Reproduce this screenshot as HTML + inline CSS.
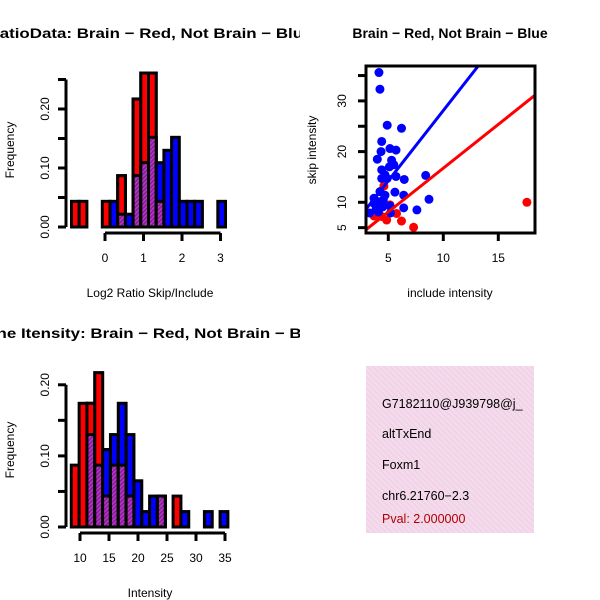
<!DOCTYPE html>
<html><head><meta charset="utf-8"><style>
html,body{margin:0;padding:0;background:#fff}
svg{display:block;font-family:"Liberation Sans",sans-serif}
</style></head><body>
<svg id="c" width="600" height="600" viewBox="0 0 600 600">
<defs>
<pattern id="purp" patternUnits="userSpaceOnUse" width="3" height="3" patternTransform="rotate(45)">
<rect width="3" height="3" fill="#8a1a9a"/><rect width="1.5" height="3" fill="#b03ac0"/></pattern>
<pattern id="pink" patternUnits="userSpaceOnUse" width="4" height="4" patternTransform="rotate(-45)">
<rect width="4" height="4" fill="#fad6f4"/><rect width="1" height="4" fill="#dcdccc"/></pattern>
<clipPath id="clipTL"><rect x="0" y="0" width="300" height="300"/></clipPath>
<clipPath id="clipBL"><rect x="0" y="300" width="300" height="300"/></clipPath>
<clipPath id="clipSc"><rect x="366" y="66" width="169" height="167"/></clipPath>
<clipPath id="clipBox"><rect x="366" y="366" width="168" height="168"/></clipPath>
</defs>
<g id="tl"></g>
<g id="tr"></g>
<g id="bl"></g>
<g id="br">
<rect x="366" y="366" width="168" height="167" fill="url(#pink)"/>
<g clip-path="url(#clipBox)" font-size="12.5">
<text x="382" y="408">G7182110@J939798@j_</text>
<text x="382" y="438">altTxEnd</text>
<text x="382" y="469">Foxm1</text>
<text x="382" y="500">chr6.21760−2.3</text>
<text x="382" y="523" fill="#b00000">Pval: 2.000000</text>
</g></g>
</svg>
<script>
// ---- Top-left histogram data (Log2 ratio) ----
const ratioBreakStart = -0.87;
const ratioBinWidth = 0.2;
const ratioRed  = [0.0435,0.0435,0,0,0.0435,0,0.087,0,0.217,0.261,0.261,0.0435,0,0,0,0,0,0,0,0];
const ratioBlue = [0,0,0,0,0,0.0435,0.0217,0.0217,0.087,0.109,0.152,0.109,0.130,0.152,0.0435,0.0435,0.0435,0,0,0.0435];
const ratioXTicks = [0,1,2,3];
const ratioYTicks = [0,0.05,0.10,0.15,0.20,0.25];
const ratioYLabels = ["0.00","","0.10","","0.20",""];
// ---- Bottom-left histogram data (Intensity) ----
const intBreakStart = 8.5;
const intBinWidth = 1.35;
const intRed  = [0.087,0.174,0.174,0.217,0.0435,0.087,0.087,0.0435,0,0,0,0.0435,0,0.0435,0,0,0,0,0,0];
const intBlue = [0,0,0.130,0.087,0.109,0.130,0.174,0.130,0.065,0.0217,0.0435,0.0435,0,0,0.0217,0,0,0.0217,0,0.0217];
const intXTicks = [10,15,20,25,30,35];
const intYTicks = [0,0.05,0.10,0.15,0.20];
const intYLabels = ["0.00","","0.10","","0.20"];
// ---- Scatter data ----
const blueInclude = [4.15,4.24,4.9,6.2,4.4,4.34,4.0,5.15,5.7,5.3,5.1,5.5,4.4,4.7,4.4,4.9,5.7,6.45,8.4,4.24,4.7,5.6,6.4,8.7,3.7,3.7,4.1,4.5,5.15,6.4,7.6,3.3,4.1,5.2,4.55,3.9];
const blueSkip    = [35.6,32.3,25.2,24.6,22.0,20.0,18.5,20.6,20.3,18.3,17.0,17.4,16.4,15.4,14.7,14.7,15.1,14.5,15.3,12.1,11.4,12.0,11.4,10.6,10.8,9.8,10.1,9.1,9.3,8.9,8.5,7.9,8.1,7.9,10.5,8.8];
const redInclude  = [17.6,7.3,6.2,4.85,5.75,3.7,4.4,5.15,4.6];
const redSkip     = [10.0,5.07,6.3,6.5,7.8,7.3,7.2,9.5,13.2];
const blueFit = [0.4,2.77];   // intercept, slope
const redFit  = [-0.53,1.726];
const scXTicks = [5,10,15];
const scYTicks = [5,10,15,20,25,30,35];
const scYLabels = ["5","10","","20","","30",""];

const NS="http://www.w3.org/2000/svg";
function mk(parent,tag,attrs){const e=document.createElementNS(NS,tag);for(const k in attrs)e.setAttribute(k,attrs[k]);parent.appendChild(e);return e;}

function hist(g,o){
  const sx=v=>o.x0+(v-o.u0)*o.kx, sy=v=>o.y0-v*o.ky;
  const n=o.red.length;
  for(let i=0;i<n;i++){
    const a=o.start+i*o.bw, b=a+o.bw, x=sx(a), w=sx(b)-sx(a);
    const r=o.red[i], bl=o.blue[i], m=Math.min(r,bl);
    if(r>0){const e=mk(g,'rect',{x:x,y:sy(r),width:w,height:sy(0)-sy(r),fill:'#ff0000',stroke:'#000','stroke-width':3});
      
      }
    if(bl>0){const e=mk(g,'rect',{x:x,y:sy(bl),width:w,height:sy(0)-sy(bl),fill:'#0000ff',stroke:'#000','stroke-width':3});
      
      }
    if(r>=bl&&bl>0){const e=mk(g,'rect',{x:x,y:sy(r),width:w,height:sy(0)-sy(r),fill:'#ff0000',stroke:'#000','stroke-width':3});
      
      }
    if(m>0){const e=mk(g,'rect',{x:x,y:sy(m),width:w,height:sy(0)-sy(m),fill:'url(#purp)',stroke:'#000','stroke-width':3});
      
      }
  }
  const ya=mk(g,'line',{x1:o.yax,x2:o.yax,y1:sy(0),y2:sy(o.yt[o.yt.length-1]),stroke:'#000','stroke-width':3});
  
  
  o.yt.forEach((t,i)=>{mk(g,'line',{x1:o.yax,x2:o.yax-8,y1:sy(t),y2:sy(t),stroke:'#000','stroke-width':3});
    if(o.yl[i]){const tx=mk(g,'text',{x:0,y:0,transform:`translate(${o.yax-17},${sy(t)}) rotate(-90)`,'text-anchor':'middle','font-size':12});tx.textContent=o.yl[i];
      
      }});
  const xa=mk(g,'line',{x1:sx(o.xt[0]),x2:sx(o.xt[o.xt.length-1]),y1:o.xay,y2:o.xay,stroke:'#000','stroke-width':3});
  
  
  o.xt.forEach(t=>{mk(g,'line',{x1:sx(t),x2:sx(t),y1:o.xay,y2:o.xay+8,stroke:'#000','stroke-width':3});
    const tx=mk(g,'text',{x:sx(t),y:o.xay+29,'text-anchor':'middle','font-size':12});tx.textContent=String(t);
    
    });
  const yt=mk(g,'text',{x:0,y:0,transform:`translate(14,${o.ycenter}) rotate(-90)`,'text-anchor':'middle','font-size':12});yt.textContent='Frequency';
  
  
  const xt=mk(g,'text',{x:150,y:o.xay+64,'text-anchor':'middle','font-size':12});xt.textContent=o.xlab;
  
  
  const tg=mk(g,'g',{'clip-path':o.clip});
  const tt=mk(tg,'text',{x:150,y:o.titley,'text-anchor':'middle','font-size':14,'font-weight':'bold',textLength:o.tlen,lengthAdjust:'spacingAndGlyphs'});tt.textContent=o.title;
  
  
}

hist(document.getElementById('tl'),{red:ratioRed,blue:ratioBlue,start:ratioBreakStart,bw:ratioBinWidth,
  x0:105,u0:0,kx:38.5,y0:227,ky:590,yax:66,xay:233,xt:ratioXTicks,yt:ratioYTicks,yl:ratioYLabels,
  ycenter:150,xlab:'Log2 Ratio Skip/Include',title:'RatioData: Brain − Red, Not Brain − Blue',titley:38,tlen:325,clip:'url(#clipTL)'});
hist(document.getElementById('bl'),{red:intRed,blue:intBlue,start:intBreakStart,bw:intBinWidth,
  x0:80,u0:10,kx:5.8,y0:527,ky:711,yax:66,xay:533,xt:intXTicks,yt:intYTicks,yl:intYLabels,
  ycenter:450,xlab:'Intensity',title:'Gene Itensity: Brain − Red, Not Brain − Blue',titley:338,tlen:352,clip:'url(#clipBL)'});

(function(){
  const g=document.getElementById('tr');
  const sx=v=>333.3+v*11, sy=v=>253-v*5.07;
  const cg=mk(g,'g',{'clip-path':'url(#clipSc)'});
  redInclude.forEach((v,i)=>{const c=mk(cg,'circle',{cx:sx(v),cy:sy(redSkip[i]),r:4.5,fill:'#ff0000'});
    
    });
  blueInclude.forEach((v,i)=>{const c=mk(cg,'circle',{cx:sx(v),cy:sy(blueSkip[i]),r:4.5,fill:'#0000ff'});
    
    });
  const lx0=2,lx1=20;
  const bLine=mk(cg,'line',{x1:sx(lx0),y1:sy(blueFit[0]+blueFit[1]*lx0),x2:sx(lx1),y2:sy(blueFit[0]+blueFit[1]*lx1),stroke:'#0000ff','stroke-width':3});
  
  
  const rLine=mk(cg,'line',{x1:sx(lx0),y1:sy(redFit[0]+redFit[1]*lx0),x2:sx(lx1),y2:sy(redFit[0]+redFit[1]*lx1),stroke:'#ff0000','stroke-width':3});
  
  
  const box=mk(g,'rect',{x:366,y:66,width:169,height:167,fill:'none',stroke:'#000','stroke-width':3});
  
  
  scXTicks.forEach(t=>{mk(g,'line',{x1:sx(t),x2:sx(t),y1:233,y2:241,stroke:'#000','stroke-width':3});
    const tx=mk(g,'text',{x:sx(t),y:262,'text-anchor':'middle','font-size':12});tx.textContent=String(t);
    
    });
  scYTicks.forEach((t,i)=>{mk(g,'line',{x1:366,x2:358,y1:sy(t),y2:sy(t),stroke:'#000','stroke-width':3});
    if(scYLabels[i]){const tx=mk(g,'text',{x:0,y:0,transform:`translate(346,${sy(t)}) rotate(-90)`,'text-anchor':'middle','font-size':12});tx.textContent=scYLabels[i];
      
      }});
  const xt=mk(g,'text',{x:450,y:297,'text-anchor':'middle','font-size':12});xt.textContent='include intensity';
  
  
  const yt=mk(g,'text',{x:0,y:0,transform:'translate(316,150) rotate(-90)','text-anchor':'middle','font-size':12});yt.textContent='skip intensity';
  
  
  const tt=mk(g,'text',{x:450,y:38,'text-anchor':'middle','font-size':14,'font-weight':'bold'});tt.textContent='Brain − Red, Not Brain − Blue';
  
  
})();
</script>
</body></html>
